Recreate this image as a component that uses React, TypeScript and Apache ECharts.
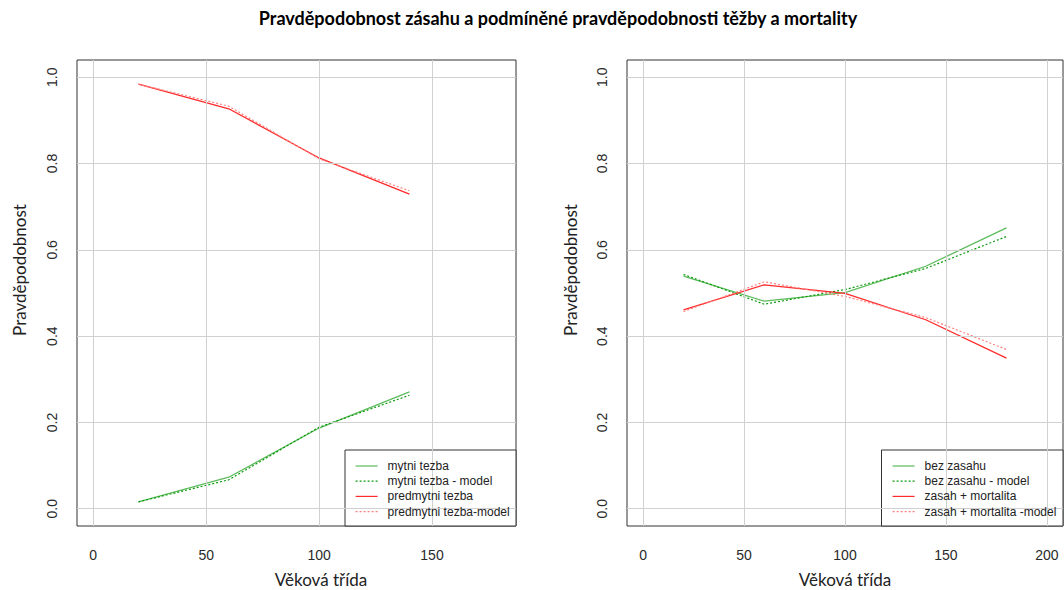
import React, { useEffect, useRef } from "react";
import * as echarts from "echarts";

// Age classes of the two panels
const agesLeft = [20, 60, 100, 140];
const agesRight = [20, 60, 100, 140, 180];

// Left panel: conditional probabilities of final vs. pre-final felling
const mytniTezba = [0.016, 0.073, 0.187, 0.271];
const mytniTezbaModel = [0.016, 0.067, 0.189, 0.263];
const predmytniTezba = [0.984, 0.927, 0.813, 0.729];
const predmytniTezbaModel = [0.984, 0.933, 0.811, 0.737];

// Right panel: probability of intervention
const bezZasahu = [0.539, 0.481, 0.501, 0.562, 0.651];
const bezZasahuModel = [0.543, 0.474, 0.508, 0.557, 0.631];
const zasahMortalita = [0.461, 0.519, 0.499, 0.438, 0.349];
const zasahMortalitaModel = [0.457, 0.526, 0.492, 0.443, 0.369];

// Axis ticks
const xTicksLeft = [0, 50, 100, 150];
const xTicksRight = [0, 50, 100, 150, 200];
const yTicks = [0, 0.2, 0.4, 0.6, 0.8, 1.0];

const legendLeft = ["mytni tezba", "mytni tezba - model", "predmytni tezba", "predmytni tezba-model"];
const legendRight = ["bez zasahu", "bez zasahu - model", "zasah + mortalita", "zasah + mortalita -model"];

const GREEN = "#5dbb5d";
const GREEN_DARK = "#0a9a0a";
const RED = "#ff2a2a";
const RED_LIGHT = "#ff7f7f";
const GRID_GRAY = "#d0d0d0";
const AXIS_COL = "#333333";
const SANS = "'Liberation Sans', Arial, sans-serif";
const TITLE_FONT = "Lato, 'Open Sans', sans-serif";

const pairs = (xs: number[], ys: number[]) => xs.map((x, i) => [x, ys[i]]);

function lineSeries(name: string, xs: number[], ys: number[], color: string, dotted: boolean, idx: number) {
  return {
    type: "line",
    name,
    xAxisIndex: idx,
    yAxisIndex: idx,
    data: pairs(xs, ys),
    symbol: "none",
    showSymbol: false,
    z: 3,
    lineStyle: { color, width: dotted ? 1.2 : 1.3, type: dotted ? [2, 2] : "solid" },
    itemStyle: { color },
  };
}

function gridLines(idx: number, xTicks: number[]) {
  return {
    type: "line",
    xAxisIndex: idx,
    yAxisIndex: idx,
    data: [],
    silent: true,
    z: 1,
    markLine: {
      silent: true,
      symbol: "none",
      animation: false,
      label: { show: false },
      lineStyle: { color: GRID_GRAY, width: 1, type: "solid" },
      emphasis: { disabled: true },
      data: [...xTicks.map((v) => ({ xAxis: v })), ...yTicks.map((v) => ({ yAxis: v }))],
    },
  };
}

function xAxis(idx: number, min: number, max: number, ticks: number[]) {
  return {
    type: "value",
    gridIndex: idx,
    min,
    max,
    axisLine: { show: false },
    splitLine: { show: false },
    axisTick: { show: true, inside: false, length: 8, customValues: ticks, lineStyle: { color: AXIS_COL } },
    axisLabel: {
      customValues: ticks,
      margin: 22,
      fontSize: 14,
      fontFamily: SANS,
      color: "#2a2a2a",
    },
  };
}

function yAxis(idx: number) {
  return {
    type: "value",
    gridIndex: idx,
    min: -0.04,
    max: 1.04,
    axisLine: { show: false },
    splitLine: { show: false },
    axisTick: { show: true, inside: false, length: 8, customValues: yTicks, lineStyle: { color: AXIS_COL } },
    axisLabel: {
      customValues: yTicks,
      rotate: 90,
      margin: 18,
      fontSize: 14,
      fontFamily: SANS,
      color: "#2a2a2a",
      formatter: (v: number) => v.toFixed(1),
    },
  };
}

function legend(left: number, names: string[]) {
  return {
    orient: "vertical",
    left,
    top: 460,
    data: names,
    z: 10,
    padding: 0,
    itemWidth: 22,
    itemHeight: 12,
    itemGap: 3.2,
    selectedMode: false,
    // keys show only the line sample, no marker
    itemStyle: { color: "transparent", borderColor: "transparent", borderWidth: 0, opacity: 0 },
    lineStyle: { width: 1.2 },
    textStyle: { fontSize: 12, fontFamily: SANS, color: "#222", padding: [0, 0, 0, 5] },
  };
}

const axisTitle = (x: number, y: number, text: string, vertical: boolean) => ({
  type: "text",
  x,
  y,
  rotation: vertical ? Math.PI / 2 : 0,
  z: 20,
  style: {
    text,
    fill: "#222",
    font: `17px ${TITLE_FONT}`,
    textAlign: "center",
    textVerticalAlign: "middle",
  },
});

export default function App() {
  const ref = useRef<HTMLDivElement>(null);

  useEffect(() => {
    document.body.style.margin = "0";
    if (!ref.current) return;
    const chart = echarts.init(ref.current, undefined, { renderer: "svg" });

    chart.setOption({
      animation: false,
      backgroundColor: "#ffffff",
      grid: [
        { left: 77, top: 60, width: 439, height: 466, show: true, borderColor: AXIS_COL, borderWidth: 1, backgroundColor: "transparent" },
        { left: 627, top: 60, width: 436, height: 466, show: true, borderColor: AXIS_COL, borderWidth: 1, backgroundColor: "transparent" },
      ],
      xAxis: [xAxis(0, -7.2, 187.2, xTicksLeft), xAxis(1, -8, 208, xTicksRight)],
      yAxis: [yAxis(0), yAxis(1)],
      legend: [legend(355, legendLeft), legend(892, legendRight)],
      series: [
        gridLines(0, xTicksLeft),
        gridLines(1, xTicksRight),
        lineSeries(legendLeft[0], agesLeft, mytniTezba, GREEN, false, 0),
        lineSeries(legendLeft[1], agesLeft, mytniTezbaModel, GREEN_DARK, true, 0),
        lineSeries(legendLeft[2], agesLeft, predmytniTezba, RED, false, 0),
        lineSeries(legendLeft[3], agesLeft, predmytniTezbaModel, RED_LIGHT, true, 0),
        lineSeries(legendRight[0], agesRight, bezZasahu, GREEN, false, 1),
        lineSeries(legendRight[1], agesRight, bezZasahuModel, GREEN_DARK, true, 1),
        lineSeries(legendRight[2], agesRight, zasahMortalita, RED, false, 1),
        lineSeries(legendRight[3], agesRight, zasahMortalitaModel, RED_LIGHT, true, 1),
      ],
      graphic: [
        {
          type: "text",
          x: 558,
          y: 18,
          z: 20,
          style: {
            text: "Pravděpodobnost zásahu a podmíněné pravděpodobnosti těžby a mortality",
            fill: "#000",
            font: `bold 18px ${TITLE_FONT}`,
            textAlign: "center",
            textVerticalAlign: "middle",
          },
        },
        axisTitle(321, 579, "Věková třída", false),
        axisTitle(845, 579, "Věková třída", false),
        axisTitle(19, 270, "Pravděpodobnost", true),
        axisTitle(570, 270, "Pravděpodobnost", true),
        // legend frames
        { type: "rect", z: 5, shape: { x: 345, y: 450, width: 171, height: 76 }, style: { fill: "#fff", stroke: AXIS_COL, lineWidth: 1 } },
        { type: "rect", z: 5, shape: { x: 881.5, y: 450, width: 181.5, height: 76 }, style: { fill: "#fff", stroke: AXIS_COL, lineWidth: 1 } },
      ],
    });

    return () => chart.dispose();
  }, []);

  return <div ref={ref} style={{ width: 1064, height: 590 }} />;
}
